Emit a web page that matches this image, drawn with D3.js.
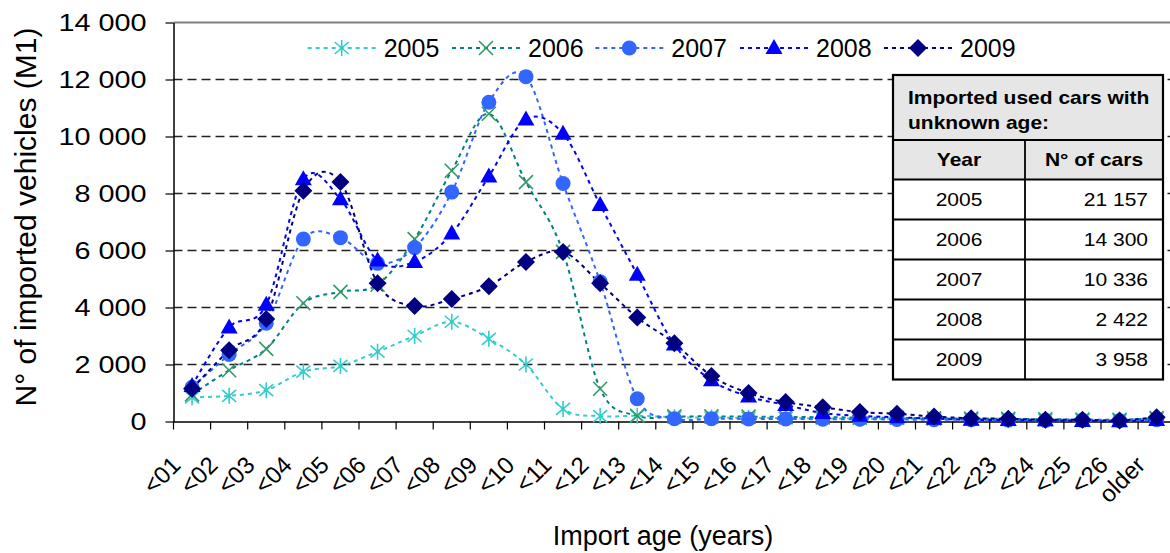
<!DOCTYPE html>
<html><head><meta charset="utf-8">
<script src="https://cdn.jsdelivr.net/npm/d3@7"></script>
<style>
html,body{margin:0;padding:0;background:#fff;}
svg{display:block;font-family:Arial,"Liberation Sans",sans-serif;}
</style></head>
<body><svg id="c" width="1170" height="553"></svg>
<script>
const categories = ["<01","<02","<03","<04","<05","<06","<07","<08","<09","<10","<11","<12","<13","<14","<15","<16","<17","<18","<19","<20","<21","<22","<23","<24","<25","<26","older"];
const s2005 = [850, 900, 1100, 1750, 1950, 2450, 3000, 3500, 2900, 2000, 440, 190, 200, 150, 140, 130, 120, 110, 100, 100, 90, 80, 70, 60, 60, 50, 110];
const s2006 = [950, 1800, 2550, 4150, 4550, 4800, 6400, 8800, 10800, 8400, 5950, 1150, 200, 180, 180, 170, 160, 150, 140, 130, 110, 100, 90, 80, 70, 60, 120];
const s2007 = [1200, 2350, 3450, 6400, 6450, 5550, 6100, 8050, 11200, 12100, 8350, 4900, 800, 100, 100, 90, 90, 80, 80, 70, 60, 60, 50, 40, 40, 30, 60];
const s2008 = [1250, 3300, 4100, 8500, 7800, 5650, 5600, 6600, 8600, 10600, 10100, 7600, 5150, 2700, 1450, 880, 580, 300, 200, 150, 100, 60, 50, 40, 20, 10, 50];
const s2009 = [1150, 2500, 3600, 8100, 8400, 4850, 4050, 4300, 4750, 5600, 5950, 4850, 3650, 2750, 1600, 1000, 680, 500, 330, 270, 175, 115, 95, 60, 60, 35, 150];
const seriesNames = ["2005","2006","2007","2008","2009"];
const yTicks = [0, 2000, 4000, 6000, 8000, 10000, 12000, 14000];
const tableYears = ["2005","2006","2007","2008","2009"];
const tableCars = ["21 157","14 300","10 336","2 422","3 958"];

const seriesData = [s2005, s2006, s2007, s2008, s2009];
const styles = [
  {line:"#33CCCC", mark:"#33CCCC", shape:"star"},
  {line:"#008080", mark:"#339966", shape:"x"},
  {line:"#3366FF", mark:"#3366FF", shape:"circle"},
  {line:"#0000FF", mark:"#0000FF", shape:"tri"},
  {line:"#000080", mark:"#000080", shape:"diamond"}
];

const svg = d3.select("#c");
const pL = 173.5, bw = 37.1, pT = 22.5, pB = 421.5;
const x = d3.scaleBand().domain(categories).range([pL, pL + bw*categories.length]).padding(0);
const y = d3.scaleLinear().domain([0, 14000]).range([pB, pT]);
const cx = c => x(c) + x.bandwidth()/2;
const fmt = v => d3.format(",")(v).replace(/,/g, " ");

// gridlines
svg.append("g").selectAll("line").data(yTicks.filter(t => t>0 && t<14000)).join("line")
  .attr("x1", pL).attr("x2", 1170).attr("y1", d=>y(d)).attr("y2", d=>y(d))
  .attr("stroke", "#222").attr("stroke-width", 1.3).attr("stroke-dasharray", "9,5");
svg.append("line").attr("x1", pL).attr("x2", 1170).attr("y1", y(14000)).attr("y2", y(14000))
  .attr("stroke", "#808080").attr("stroke-width", 2);

// y axis
const ya = svg.append("g").attr("transform", `translate(${pL},0)`)
  .call(d3.axisLeft(y).tickValues(yTicks).tickSize(8).tickSizeOuter(0).tickFormat(fmt));
ya.select(".domain").attr("stroke", "#000").attr("stroke-width", 1.5);
ya.selectAll(".tick line").attr("stroke", "#000").attr("stroke-width", 1.2);
ya.selectAll(".tick text").attr("x", 0).attr("dy", "0.35em").attr("fill", "#000")
  .style("font-size", "24px").attr("text-anchor", "end")
  .attr("transform", "translate(-27,0) scale(1.2,1)");

// x axis
const xa = svg.append("g").attr("transform", `translate(0,${pB})`)
  .call(d3.axisBottom(x).tickSize(0).tickSizeOuter(0));
xa.select(".domain").attr("stroke", "#000").attr("stroke-width", 1.5);
xa.selectAll(".tick text").attr("x", 0).attr("y", 0).attr("dy", 0).attr("fill", "#000")
  .style("font-size", "24px").attr("text-anchor", "end")
  .attr("transform", "translate(-10,45) rotate(-45)");
svg.append("g").selectAll("line").data(d3.range(categories.length+1)).join("line")
  .attr("x1", i => pL + i*x.bandwidth()).attr("x2", i => pL + i*x.bandwidth())
  .attr("y1", pB).attr("y2", pB + 8).attr("stroke", "#000").attr("stroke-width", 1.2);

// axis titles
svg.append("text").attr("transform", `translate(36,217) rotate(-90)`).attr("text-anchor","middle")
  .style("font-size","30px").text("N° of imported vehicles (M1)");
svg.append("text").attr("x", 663).attr("y", 545).attr("text-anchor","middle")
  .style("font-size","27px").text("Import age (years)");

// markers
function markPath(shape){
  if(shape==="star") return "M0,-8L0,8M-7,-6L7,6M-7,6L7,-6";
  if(shape==="x") return "M-7,-7L7,7M-7,7L7,-7";
  if(shape==="tri") return "M0,-9L8.5,6L-8.5,6Z";
  if(shape==="diamond") return "M0,-9L9,0L0,9L-9,0Z";
  return null;
}
function drawMark(g, st){
  if(st.shape==="circle") g.append("circle").attr("r", 7.5).attr("fill", st.mark);
  else if(st.shape==="star" || st.shape==="x")
    g.append("path").attr("d", markPath(st.shape)).attr("stroke", st.mark).attr("stroke-width", 1.6).attr("fill","none");
  else g.append("path").attr("d", markPath(st.shape)).attr("fill", st.mark);
}

const line = d3.line().x((d,i)=>cx(categories[i])).y(d=>y(d)).curve(d3.curveCatmullRom.alpha(0));
const plot = svg.append("g");
seriesData.forEach((s, k) => {
  const st = styles[k];
  plot.append("path").datum(s).attr("d", line).attr("fill","none")
    .attr("stroke", st.line).attr("stroke-width", 2).attr("stroke-dasharray","4,4");
});
seriesData.forEach((s, k) => {
  const st = styles[k];
  const g = plot.append("g");
  s.forEach((v, i) => {
    const m = g.append("g").attr("transform", `translate(${cx(categories[i])},${y(v)})`);
    drawMark(m, st);
  });
});

// legend
const legX = [341.7, 486, 629.3, 774, 918];
const leg = svg.append("g");
seriesNames.forEach((n, k) => {
  const st = styles[k];
  const g = leg.append("g").attr("transform", `translate(${legX[k]},48)`);
  g.append("line").attr("x1",-34).attr("x2",35).attr("stroke", st.line).attr("stroke-width",2).attr("stroke-dasharray","4,4");
  drawMark(g, st);
  g.append("text").attr("x", 42).attr("dy","0.36em").style("font-size","25px").text(n);
});

// table
const tx0 = 893, tx1 = 1163, tcol = 1025;
const rowsY = [75, 140, 179.5, 219.5, 259.5, 299.5, 339.5, 379.5];
const tb = svg.append("g");
tb.append("rect").attr("x", tx0).attr("y", rowsY[0]).attr("width", tx1-tx0).attr("height", rowsY[7]-rowsY[0]).attr("fill","#fff");
tb.append("rect").attr("x", tx0).attr("y", rowsY[0]).attr("width", tx1-tx0).attr("height", rowsY[2]-rowsY[0]).attr("fill","#e6e6e6");
rowsY.slice(1,7).forEach(yy => tb.append("line").attr("x1",tx0).attr("x2",tx1).attr("y1",yy).attr("y2",yy).attr("stroke","#000").attr("stroke-width",1.8));
tb.append("line").attr("x1",tcol).attr("x2",tcol).attr("y1",rowsY[1]).attr("y2",rowsY[7]).attr("stroke","#000").attr("stroke-width",1.8);
tb.append("rect").attr("x", tx0).attr("y", rowsY[0]).attr("width", tx1-tx0).attr("height", rowsY[7]-rowsY[0]).attr("fill","none").attr("stroke","#000").attr("stroke-width",2.2);
function ttext(xx, yy, s, anchor, bold){
  tb.append("text").attr("transform", `translate(${xx},${yy}) scale(1.2,1)`).attr("text-anchor", anchor)
    .style("font-size","17.5px").style("font-weight", bold?"bold":"normal").text(s);
}
ttext(908, 104, "Imported used cars with", "start", true);
ttext(908, 129, "unknown age:", "start", true);
ttext((tx0+tcol)/2, 166, "Year", "middle", true);
ttext((tcol+tx1)/2, 166, "N° of cars", "middle", true);
tableYears.forEach((yr, i) => {
  const yy = rowsY[2+i] + 26;
  ttext((tx0+tcol)/2, yy, yr, "middle", false);
  ttext(1148, yy, tableCars[i], "end", false);
});
</script></body></html>
